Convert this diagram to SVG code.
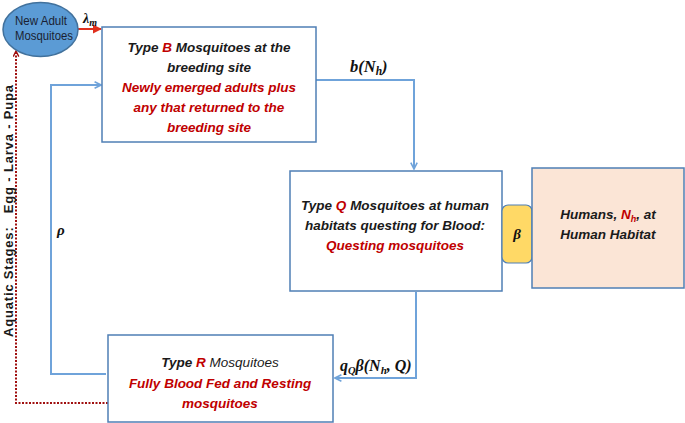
<svg xmlns="http://www.w3.org/2000/svg" width="685" height="423" viewBox="0 0 685 423">
<defs>
<style>
.box{fill:#fff;stroke:#4F7FB5;stroke-width:1.5}
.con{fill:none;stroke:#6FA3DA;stroke-width:2}
.t{font-family:"Liberation Sans",Arial,sans-serif;font-size:13.5px;font-weight:bold;font-style:italic;text-anchor:middle;fill:#1a1a1a}
.r{fill:#C00000}
.m{font-family:"Liberation Serif","Times New Roman",serif;font-weight:bold;font-style:italic;fill:#111}
.e{font-family:"Liberation Sans",Arial,sans-serif;font-size:12.5px;text-anchor:middle;fill:#1a1f33}
</style>
<marker id="ab" viewBox="0 0 10 10" refX="9" refY="5" markerWidth="8" markerHeight="8" markerUnits="userSpaceOnUse" orient="auto">
<path d="M1,1 L9,5 L1,9" fill="none" stroke="#6FA3DA" stroke-width="2"/>
</marker>
<marker id="ar" viewBox="0 0 10 10" refX="9" refY="5" markerWidth="9" markerHeight="9" markerUnits="userSpaceOnUse" orient="auto">
<path d="M0,0 L10,5 L0,10 Z" fill="#E0301E"/>
</marker>
<marker id="ad" viewBox="0 0 10 10" refX="9" refY="5" markerWidth="7" markerHeight="7" markerUnits="userSpaceOnUse" orient="auto">
<path d="M1,1 L9,5 L1,9" fill="none" stroke="#A01010" stroke-width="2"/>
</marker>
</defs>

<g id="connectors">
<path class="con" d="M314,80 H414 V169" marker-end="url(#ab)"/>
<path class="con" d="M416,292 V378 H335" marker-end="url(#ab)"/>
<path class="con" d="M106,374 H51 V85 H101" marker-end="url(#ab)"/>
<path d="M108,403 H16 V51" fill="none" stroke="#A01010" stroke-width="2" stroke-dasharray="2,1.5" marker-end="url(#ad)"/>
<path d="M78,29 H101" fill="none" stroke="#E0301E" stroke-width="2" marker-end="url(#ar)"/>
<text class="m" x="83" y="23" font-size="14">λ<tspan font-size="10" dy="3">m</tspan></text>
<text class="m" x="350" y="72" font-size="16.5">b(N<tspan font-size="11.5" dy="3">h</tspan><tspan dy="-3">)</tspan></text>
<text class="m" x="340" y="371" font-size="16">q<tspan font-size="10.5" dy="3">Q</tspan><tspan dy="-3">β(N</tspan><tspan font-size="11" dy="3">h</tspan><tspan dy="-3">, Q)</tspan></text>
<text class="m" x="57" y="235" font-size="15">ρ</text>
<text x="13" y="211" transform="rotate(-90 13 211)" font-family="'Liberation Sans',Arial,sans-serif" font-size="13" font-weight="bold" text-anchor="middle" fill="#1a1a1a" textLength="252" style="white-space:pre">Aquatic Stages:   Egg - Larva - Pupa</text>
</g>

<g id="new-adult">
<ellipse cx="40.5" cy="29.5" rx="37.5" ry="27" fill="#5B9BD5" stroke="#41719C" stroke-width="1.5"/>
<text class="e" x="41" y="25" textLength="52" lengthAdjust="spacingAndGlyphs">New Adult</text>
<text class="e" x="44" y="40" textLength="58" lengthAdjust="spacingAndGlyphs">Mosquitoes</text>
</g>

<g id="type-b">
<rect class="box" x="102" y="27" width="214" height="115"/>
<text class="t" x="209" y="52">Type <tspan class="r">B</tspan> Mosquitoes at the</text>
<text class="t" x="209" y="72">breeding site</text>
<text class="t r" x="209" y="92">Newly emerged adults plus</text>
<text class="t r" x="209" y="112">any that returned to the</text>
<text class="t r" x="209" y="132">breeding site</text>
</g>

<g id="type-q">
<rect class="box" x="290" y="171" width="212" height="120"/>
<text class="t" x="395" y="210">Type <tspan class="r">Q</tspan> Mosquitoes at human</text>
<text class="t" x="395" y="230">habitats questing for Blood:</text>
<text class="t r" x="395" y="250">Questing mosquitoes</text>
</g>

<g id="beta">
<rect x="502" y="205" width="30" height="58" rx="6" fill="#FFD966" stroke="#4F7FB5" stroke-width="1.2"/>
<text class="m" x="517" y="239" font-size="15" text-anchor="middle">β</text>
</g>

<g id="humans">
<rect x="532" y="168" width="152" height="120" fill="#FBE5D6" stroke="#4F7FB5" stroke-width="1.5"/>
<text class="t" x="608" y="219">Humans, <tspan class="r">N<tspan font-size="9" dy="3">h</tspan></tspan><tspan dy="-3">, at</tspan></text>
<text class="t" x="608" y="239">Human Habitat</text>
</g>

<g id="type-r">
<rect class="box" x="108" y="335" width="225" height="87"/>
<text class="t" x="220" y="367">Type <tspan class="r">R</tspan> <tspan font-weight="normal">Mosquitoes</tspan></text>
<text class="t r" x="220" y="388">Fully Blood Fed and Resting</text>
<text class="t r" x="220" y="408">mosquitoes</text>
</g>
</svg>
